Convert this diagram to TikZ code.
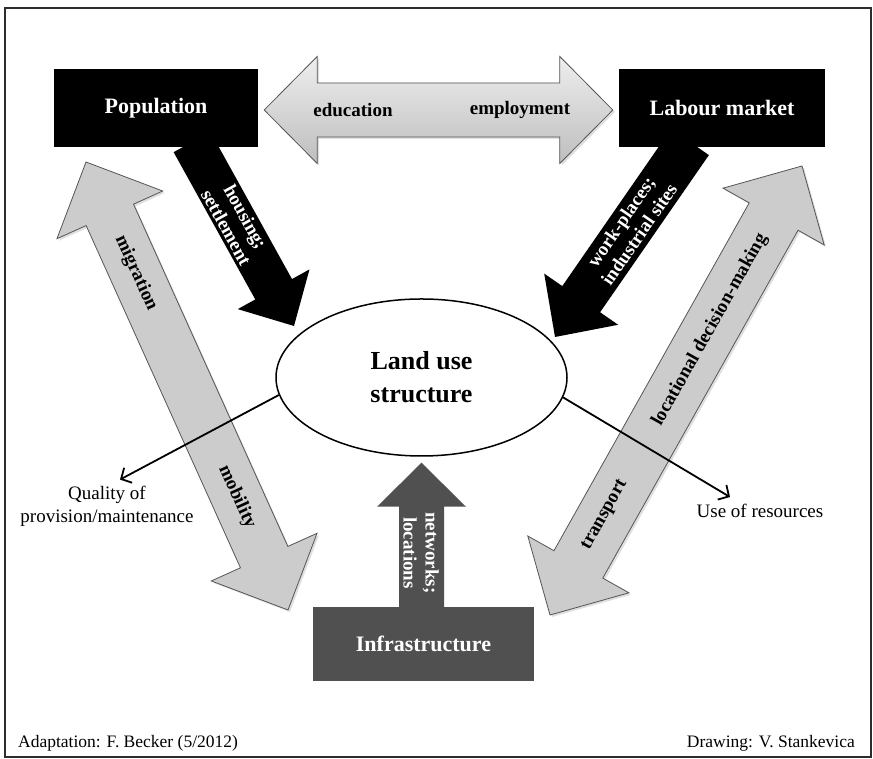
\documentclass[tikz,border=0pt]{standalone}
\usepackage{fontspec}
\setmainfont{Liberation Serif}
\definecolor{pipegray}{RGB}{204, 204, 204}
\definecolor{pipeedge}{RGB}{85, 85, 85}
\definecolor{toplight}{RGB}{238, 238, 238}
\definecolor{topdark}{RGB}{190, 190, 190}
\definecolor{infragray}{RGB}{80, 80, 80}
\definecolor{framegray}{RGB}{45, 45, 45}
\usepackage{tikz}
\usetikzlibrary{calc, arrows.meta, shapes.geometric, shadows}

\newcommand{\headfont}{\fontsize{22}{24}\selectfont\bfseries}
\newcommand{\landfont}{\fontsize{26}{33}\selectfont\bfseries}
\newcommand{\pipefont}{\fontsize{19}{22}\selectfont\bfseries}
\newcommand{\notefont}{\fontsize{19}{23}\selectfont}
\newcommand{\creditfont}{\fontsize{17.5}{20}\selectfont}

% fat arrow: style, tail, tip, half shaft, half head, head length
\newcommand{\fatarrow}[6]{%
  \path[#1] ($(#2)!#4!-90:(#3)$) -- ($(#3)!#6!(#2)!#4!-90:(#3)$)
    -- ($(#3)!#6!(#2)!#5!-90:(#3)$) -- (#3)
    -- ($(#3)!#6!(#2)!#5!90:(#3)$) -- ($(#3)!#6!(#2)!#4!90:(#3)$)
    -- ($(#2)!#4!90:(#3)$) -- cycle;}
% fat double arrow: style, end a, end b, half shaft, half head, head length
\newcommand{\fatdarrow}[6]{%
  \path[#1] (#2) -- ($(#2)!#6!(#3)!#5!-90:(#3)$) -- ($(#2)!#6!(#3)!#4!-90:(#3)$)
    -- ($(#3)!#6!(#2)!#4!-90:(#3)$) -- ($(#3)!#6!(#2)!#5!-90:(#3)$) -- (#3)
    -- ($(#3)!#6!(#2)!#5!90:(#3)$) -- ($(#3)!#6!(#2)!#4!90:(#3)$)
    -- ($(#2)!#6!(#3)!#4!90:(#3)$) -- ($(#2)!#6!(#3)!#5!90:(#3)$) -- cycle;}

\tikzstyle{box} = [inner sep=0pt, text=white, font=\headfont]
\tikzstyle{pipe} = [fill=pipegray, draw=pipeedge, line width=0.8pt,
                    drop shadow={opacity=0.25, shadow xshift=2pt, shadow yshift=-2pt}]
\tikzstyle{pipelbl} = [font=\pipefont, align=center, inner sep=0pt]
\tikzstyle{note} = [font=\notefont, align=center, inner sep=0pt]
\tikzstyle{outflow} = [-{Straight Barb[length=8pt, width=17pt]}, line width=1.8pt]

\begin{document}
\begin{tikzpicture}[x=1pt, y=1pt]
    \useasboundingbox (0, 0) rectangle (873, 759);
    \draw[framegray, line width=2pt] (5, 2) rectangle (871, 751);

    % Main blocks
    \node[box, fill=black, minimum width=204pt, minimum height=78pt] (pop) at (156, 651) {Population};
    \node[box, fill=black, minimum width=206pt, minimum height=78pt] (labour) at (722, 651) {Labour market};
    \node[box, fill=infragray, minimum width=221pt, minimum height=74pt] (infra) at (423.5, 115) {Infrastructure};
    \node[ellipse, draw, line width=1.5pt, fill=white, minimum width=291pt, minimum height=157pt,
          font=\landfont, align=center] (land) at (421.5, 381.5) {Land use\\structure};

    % Arrow ends
    \coordinate (edutip) at ($(pop.east)+(6, -2)$);
    \coordinate (emptip) at ($(labour.west)+(-6, -2)$);
    \coordinate (houtail) at (192, 617);
    \coordinate (houtip) at (294, 433);
    \coordinate (worktail) at (690, 617);
    \coordinate (worktip) at (555, 422);
    \coordinate (nettail) at ($(infra.north)+(-2, -5)$);
    \coordinate (nettip) at ($(land.south)+(0, -6)$);
    \coordinate (migtip) at (86, 597);
    \coordinate (mobtip) at (288, 149);
    \coordinate (loctip) at (802, 593);
    \coordinate (trantip) at (550, 144);

    % Education / employment
    \fatdarrow{pipe, top color=toplight, bottom color=topdark}{edutip}{emptip}{27pt}{53.5pt}{53pt}
    \node[pipelbl] (edu) at (353, 649) {education};
    \node[pipelbl] (emp) at (520, 649) {employment};

    % Migration / mobility
    \fatdarrow{pipe}{migtip}{mobtip}{26pt}{58pt}{58pt}
    \node[pipelbl, rotate=-65.7] (mig) at (136, 486) {migration};
    \node[pipelbl, rotate=-65.7] (mob) at (237, 262) {mobility};

    % Locational decision-making / transport
    \fatdarrow{pipe}{loctip}{trantip}{28pt}{58pt}{58pt}
    \node[pipelbl, rotate=60.7] (loc) at (710, 429) {locational decision-making};
    \node[pipelbl, rotate=60.7] (tran) at (605, 244) {transport};

    % Housing and work-places
    \fatarrow{fill=black}{houtail}{houtip}{21pt}{41pt}{42pt}
    \node[pipelbl, text=white, rotate=-61] (hou) at (236, 537) {housing;\\settlement};
    \fatarrow{fill=black}{worktail}{worktip}{23pt}{45pt}{46pt}
    \node[pipelbl, text=white, rotate=55.3] (work) at (630, 531) {work-places;\\industrial sites};

    % Networks
    \fatarrow{fill=infragray}{nettail}{nettip}{22.5pt}{44.5pt}{44pt}
    \node[pipelbl, text=white, rotate=-90] (net) at (421, 206) {networks;\\locations};

    % Outputs
    \node[note] (quality) at (107, 253) {Quality of\\provision/maintenance};
    \node[note] (resources) at (760, 248) {Use of resources};
    \coordinate (qualend) at ($(quality.north)+(13, 6)$);
    \coordinate (resend) at ($(resources.north)+(-30, 7)$);
    \draw[outflow] (land.187) -- (qualend);
    \draw[outflow] (land.352) -- (resend);

    % Credits
    \node[note, font=\creditfont, anchor=west] (adapt) at (18, 16) {Adaptation: F. Becker (5/2012)};
    \node[note, font=\creditfont, anchor=east] (drawn) at (855, 16) {Drawing: V. Stankevica};
\end{tikzpicture}
\end{document}
